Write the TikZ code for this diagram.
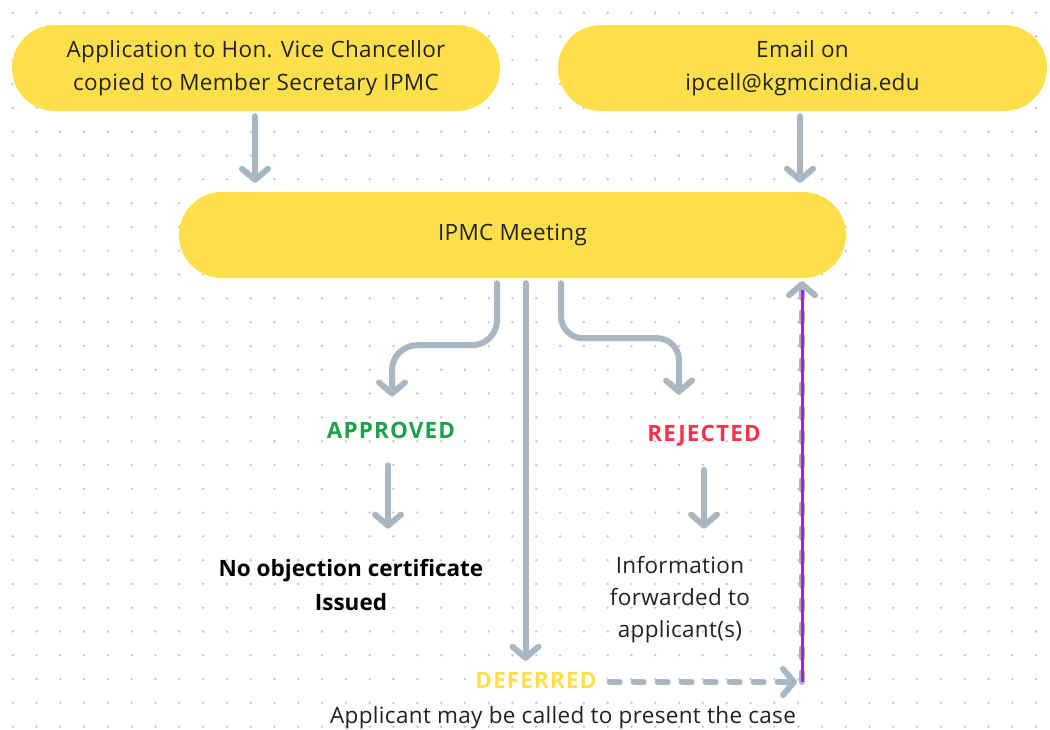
\documentclass[tikz,border=0pt]{standalone}
\usepackage{fontspec}
\setmainfont{Open Sans}
\usetikzlibrary{arrows.meta}
\definecolor{pillc}{HTML}{FFE04B}
\definecolor{arrc}{HTML}{A9B7C2}
\definecolor{dotc}{HTML}{C5CBD6}
\definecolor{okc}{HTML}{1D9F4B}
\definecolor{noc}{HTML}{F5334B}
\definecolor{defc}{HTML}{FFE04B}
\definecolor{purc}{HTML}{A020F0}
\definecolor{txtc}{HTML}{222222}
\newcommand{\regfont}{\fontsize{22.5}{33}\selectfont\addfontfeature{LetterSpace=1.5}}
\begin{document}
\begin{tikzpicture}[x=1pt,y=-1pt,
  pill/.style={rectangle, rounded corners=43pt, fill=pillc, minimum height=86pt, align=center, text=txtc, font=\regfont},
  txt/.style={inner sep=0pt, align=center, text=txtc, font=\regfont},
  boldtxt/.style={inner sep=0pt, align=center, text=black, font=\fontsize{22.5}{34}\selectfont\bfseries},
  lbl/.style={inner sep=0pt, font=\fontsize{22.5}{26}\selectfont\bfseries\addfontfeature{LetterSpace=5}},
  arr/.style={draw=arrc, line width=6pt, line cap=round, -{Straight Barb[length=11pt,width=26pt,round]}},
  dasharr/.style={arr, dash pattern=on 10pt off 14pt},
  purp/.style={draw=purc, line width=3pt}]
\useasboundingbox[fill=white] (0,0) rectangle (1050,729);
\foreach \i in {0,...,43}{\foreach \j in {0,...,30}{\fill[dotc] (12.7+23.8*\i,12.7+23.8*\j) circle (1.4pt);}}

\node[pill, minimum width=488pt] (app) at (256,68) {Application to Hon. Vice Chancellor\\copied to Member Secretary IPMC};
\node[pill, minimum width=489pt] (email) at (802.5,68) {Email on\\ipcell@kgmcindia.edu};
\node[pill, minimum width=667pt] (ipmc) at (512.5,235) {IPMC Meeting};

\node[lbl, text=okc, anchor=base] (approved) at (391,438) {APPROVED};
\node[lbl, text=noc, anchor=base] (rejected) at (704,441) {REJECTED};
\node[boldtxt, anchor=base] (cert) at (351,610) {No objection certificate\\Issued};
\node[txt, text depth=0pt, anchor=base, font=\regfont\fontsize{22.5}{32}\selectfont] (info) at (680,637) {Information\\forwarded to\\applicant(s)};
\node[lbl, text=defc, anchor=base] (deferred) at (536,688) {DEFERRED};
\node[txt, anchor=base] (note) at (563,723) {Applicant may be called to present the case};
\coordinate (corner) at (802,682);

\draw[arr, shorten >=9pt] ([xshift=-1pt,yshift=-5pt]app.south) -- ([xshift=-1pt]app.south |- ipmc.north);
\draw[arr, shorten >=9pt] ([xshift=-2.5pt,yshift=-5pt]email.south) -- ([xshift=-2.5pt]email.south |- ipmc.north);

\draw[arr, rounded corners=25pt, shorten >=25pt] ([xshift=-15.5pt,yshift=-5pt]ipmc.south) -- ++(0,62) -| ([xshift=1pt]approved.north);
\draw[arr, rounded corners=22pt, shorten >=30pt] ([xshift=48.5pt,yshift=-5pt]ipmc.south) -- ++(0,55) -| ([xshift=-25pt]rejected.north);
\draw[arr, shorten >=11pt] ([xshift=13pt,yshift=-5pt]ipmc.south) -- ([xshift=13pt]ipmc.south |- deferred.north);

\draw[arr, shorten <=27pt, shorten >=30pt] ([xshift=-3pt]approved.south) -- ([xshift=-3pt]approved.south |- cert.north);
\draw[arr, shorten <=24pt, shorten >=27pt] (rejected.south) -- (rejected.south |- info.north);

\draw[dasharr, shorten <=13pt, shorten >=5pt] (deferred.east |- corner) -- (corner);
\draw[dasharr, shorten >=3pt] (corner) -- (corner |- ipmc.south);
\draw[purp] (corner) -- ([yshift=-12pt]corner |- ipmc.south);
\end{tikzpicture}
\end{document}
